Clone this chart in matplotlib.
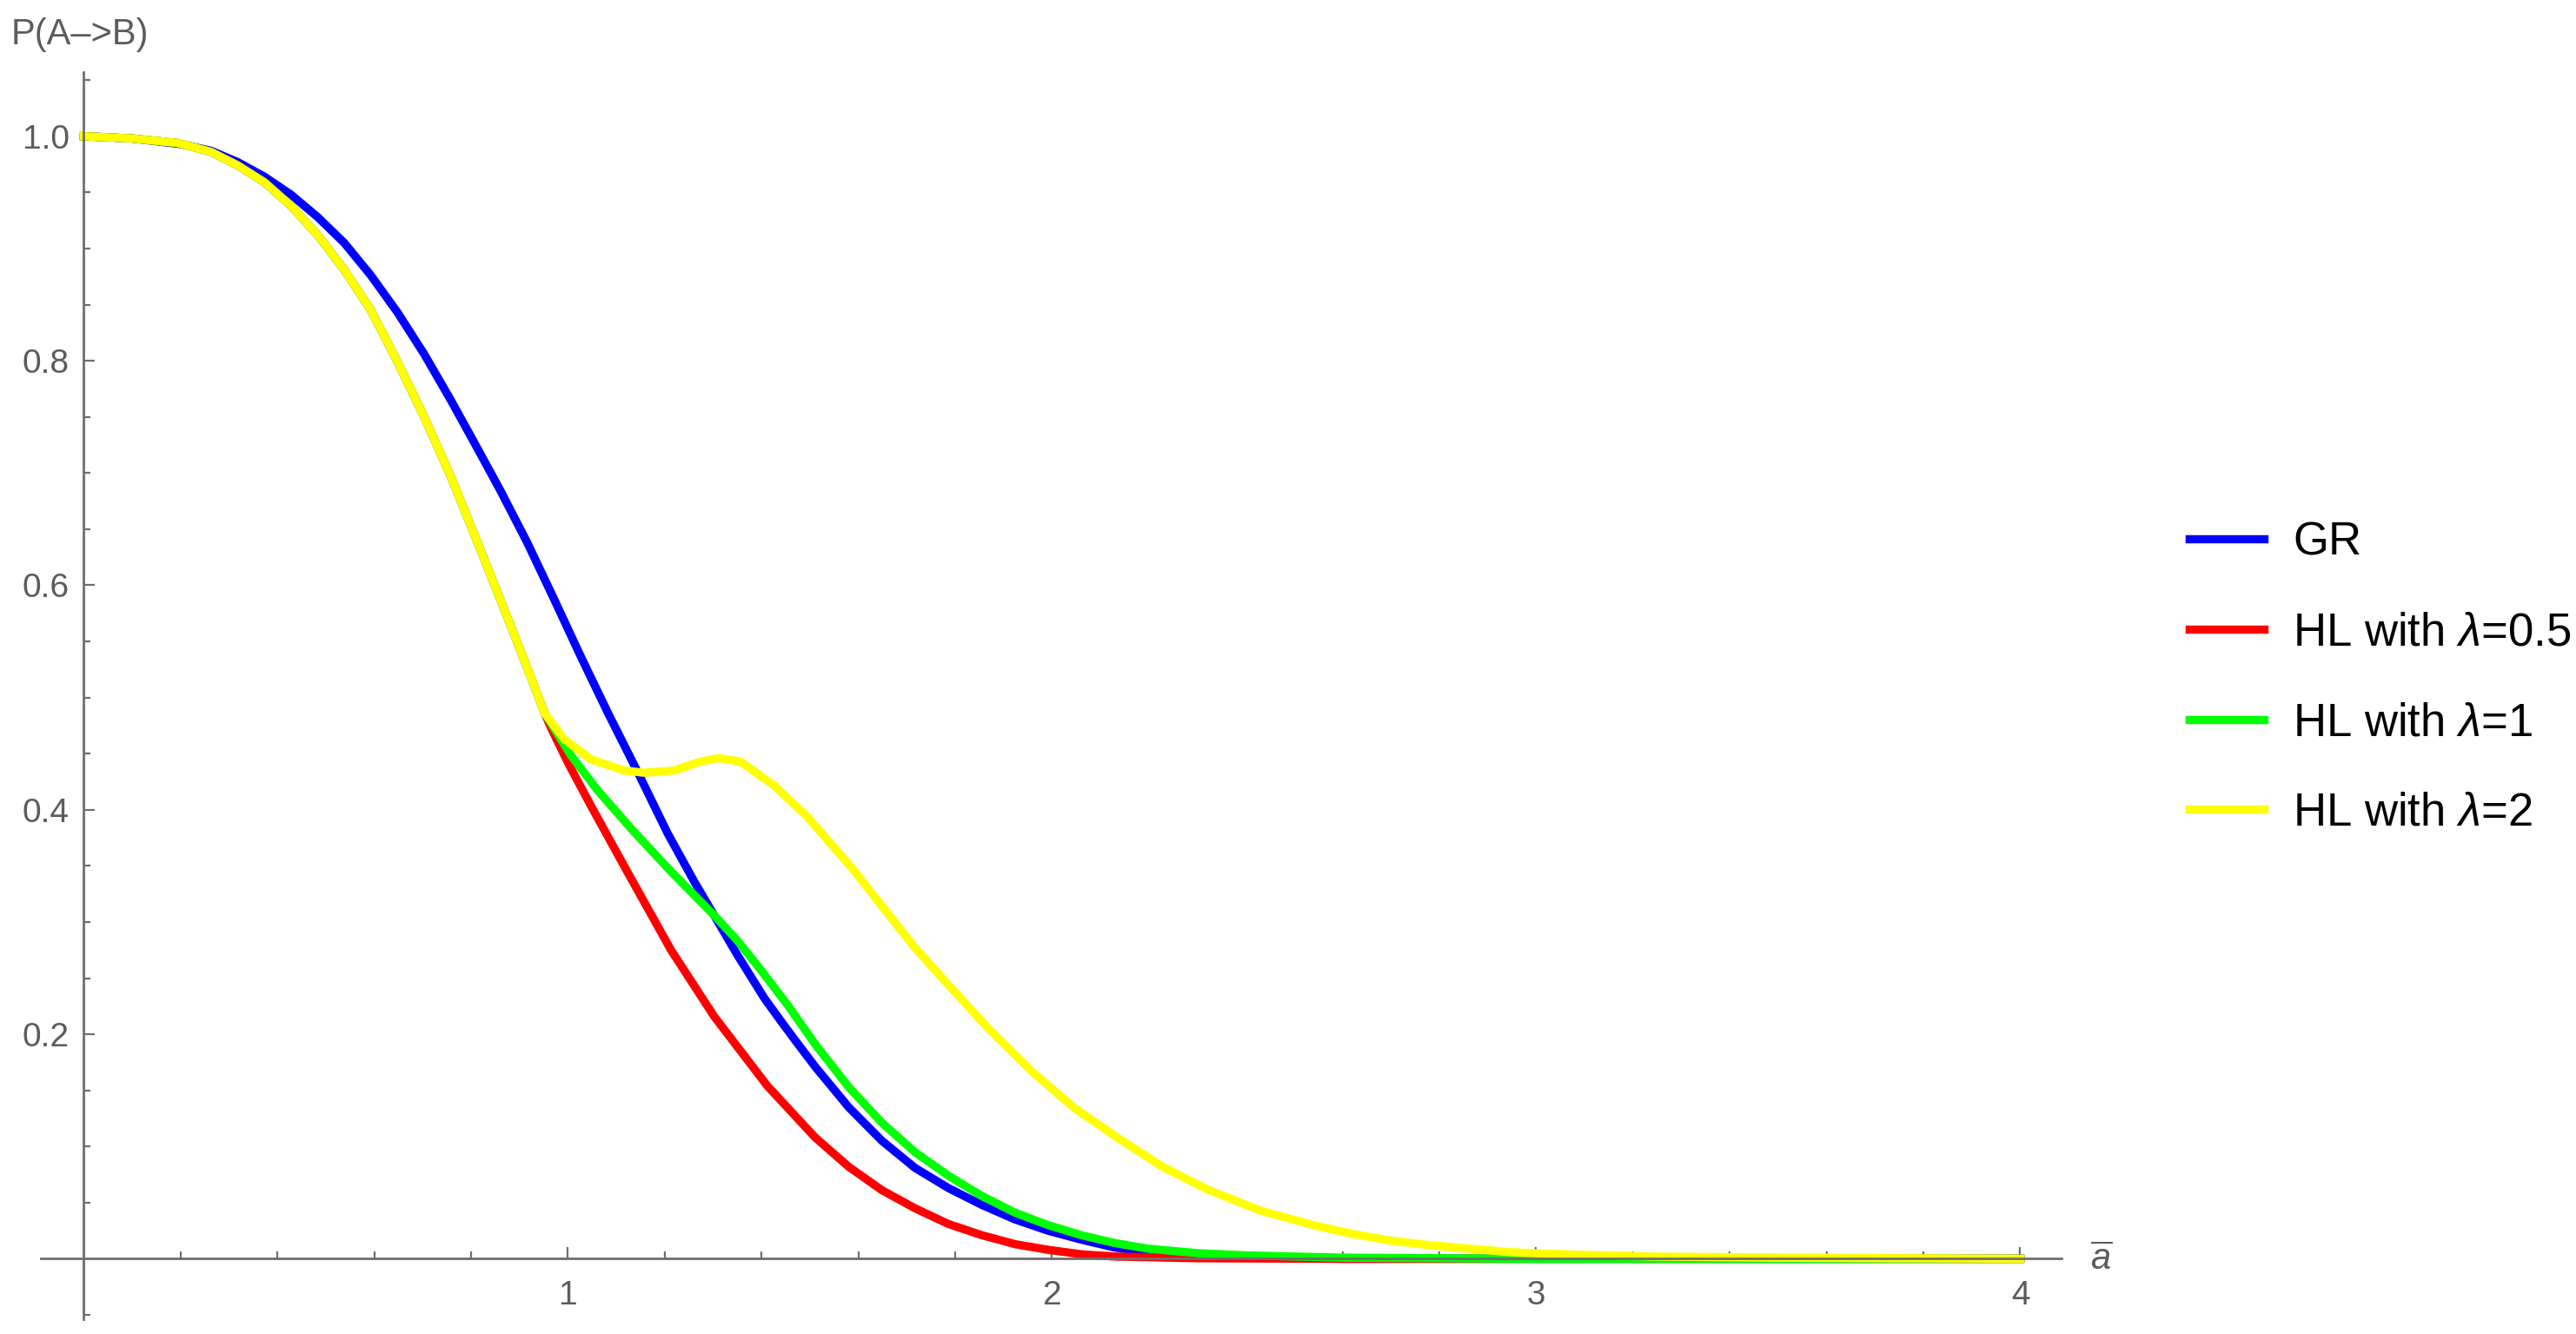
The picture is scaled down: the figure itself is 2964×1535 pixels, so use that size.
import numpy as np
import matplotlib
matplotlib.use("Agg")
import matplotlib.pyplot as plt
from matplotlib.ticker import FixedLocator

plt.rcParams['font.family'] = ['Liberation Sans', 'DejaVu Sans']
plt.rcParams['mathtext.fontset'] = 'custom'
plt.rcParams['mathtext.it'] = 'Liberation Sans:italic'
plt.rcParams['mathtext.rm'] = 'Liberation Sans'

# GR curve
gr_x = [0.0, 0.1, 0.2, 0.263, 0.318, 0.373, 0.428, 0.483, 0.538, 0.593, 0.648, 0.703,
        0.758, 0.813, 0.861, 0.916, 0.971, 1.025, 1.083, 1.146, 1.206, 1.261, 1.302, 1.351,
        1.406, 1.443, 1.474, 1.511, 1.536, 1.58, 1.649, 1.717, 1.786, 1.855, 1.924, 1.992,
        2.061, 2.13, 2.198, 2.267, 2.4, 2.6, 3.0, 4.0]
gr_y = [1.0, 0.998, 0.993, 0.987, 0.977, 0.964, 0.948, 0.928, 0.905, 0.876, 0.843, 0.806,
        0.765, 0.722, 0.684, 0.638, 0.588, 0.538, 0.486, 0.432, 0.379, 0.336, 0.306, 0.270,
        0.232, 0.210, 0.192, 0.171, 0.158, 0.135, 0.105, 0.081, 0.063, 0.048, 0.035, 0.025,
        0.017, 0.010, 0.006, 0.003, 0.001, 0.0, 0.0, 0.0]

# HL curves share the same branch up to the kink near a=0.95
hl_x = [0.0, 0.1, 0.194, 0.263, 0.318, 0.373, 0.428, 0.483, 0.538, 0.593, 0.648, 0.703,
        0.758, 0.82, 0.868, 0.91, 0.952]
hl_y = [1.0, 0.998, 0.994, 0.986, 0.974, 0.959, 0.938, 0.912, 0.881, 0.845, 0.799, 0.750,
        0.697, 0.631, 0.579, 0.533, 0.486]

red_x = [0.964, 1.0, 1.047, 1.116, 1.213, 1.302, 1.412, 1.511, 1.58, 1.649, 1.717, 1.786,
         1.855, 1.924, 1.992, 2.061, 2.13, 2.3, 2.6, 4.0]
red_y = [0.474, 0.442, 0.404, 0.350, 0.275, 0.216, 0.154, 0.108, 0.082, 0.061, 0.045, 0.031,
         0.021, 0.013, 0.008, 0.004, 0.002, 0.0005, 0.0, 0.0]

green_x = [1.007, 1.062, 1.131, 1.213, 1.302, 1.351, 1.399, 1.454, 1.511, 1.58, 1.649, 1.717,
           1.786, 1.855, 1.924, 1.992, 2.061, 2.13, 2.198, 2.301, 2.404, 2.6, 3.0, 4.0]
green_y = [0.448, 0.417, 0.383, 0.345, 0.306, 0.283, 0.257, 0.226, 0.191, 0.153, 0.121, 0.095,
           0.074, 0.056, 0.041, 0.030, 0.021, 0.014, 0.009, 0.005, 0.003, 0.001, 0.0, 0.0]

yellow_x = [0.992, 1.047, 1.116, 1.157, 1.219, 1.274, 1.311, 1.356, 1.425, 1.494, 1.587, 1.649,
            1.717, 1.786, 1.869, 1.958, 2.047, 2.135, 2.228, 2.32, 2.43, 2.54, 2.622, 2.703,
            2.783, 2.863, 2.943, 3.023, 3.103, 3.24, 3.5, 4.0]
yellow_y = [0.463, 0.445, 0.435, 0.433, 0.435, 0.443, 0.446, 0.443, 0.422, 0.394, 0.348, 0.314,
            0.277, 0.244, 0.205, 0.167, 0.134, 0.108, 0.082, 0.062, 0.043, 0.030, 0.022, 0.016,
            0.012, 0.009, 0.006, 0.0045, 0.0035, 0.002, 0.001, 0.0]

labels = ["GR", r"HL with $\lambda$=0.5", r"HL with $\lambda$=1", r"HL with $\lambda$=2"]
colores = ["#0000ff", "#ff0000", "#00ff00", "#ffff00"]

x_major = [1, 2, 3, 4]
y_major = [0.2, 0.4, 0.6, 0.8, 1.0]

gris = "#6e6e6e"
gris_texto = "#5c5c5c"

fig = plt.figure(figsize=(14.82, 7.675), dpi=200)
ax = fig.add_axes([0.016, 0.01094, 0.7844, 0.9349])

series = [
    (gr_x, gr_y),
    (hl_x + red_x, hl_y + red_y),
    (hl_x + green_x, hl_y + green_y),
    (hl_x + yellow_x, hl_y + yellow_y),
]
for (xs, ys), c, lab in zip(series, colores, labels):
    ax.plot(xs, ys, color=c, lw=3.4, label=lab, solid_joinstyle='round')

ax.set_xlim(-0.088, 4.086)
ax.set_ylim(-0.054, 1.057)

for s in ['top', 'right']:
    ax.spines[s].set_visible(False)
for s in ['left', 'bottom']:
    ax.spines[s].set_position('zero')
    ax.spines[s].set_color(gris)
    ax.spines[s].set_linewidth(1.0)
    ax.spines[s].set_zorder(5)

x_minor = [round(v, 2) for v in np.arange(0.2, 4.01, 0.2) if abs(v - round(v)) > 1e-6]
y_minor = [round(v, 2) for v in np.arange(-0.05, 1.06, 0.05)
           if abs(v * 5 - round(v * 5)) > 1e-6]
ax.xaxis.set_major_locator(FixedLocator(x_major))
ax.xaxis.set_minor_locator(FixedLocator(x_minor))
ax.yaxis.set_major_locator(FixedLocator(y_major))
ax.yaxis.set_minor_locator(FixedLocator(y_minor))
ax.set_xticklabels([str(v) for v in x_major])
ax.set_yticklabels([f"{v:.1f}" for v in y_major])

ax.tick_params(axis='both', which='both', direction='in', color=gris, width=0.8,
               labelcolor=gris_texto, labelsize=14)
ax.tick_params(axis='x', which='major', length=4.7, pad=9)
ax.tick_params(axis='x', which='minor', length=2.8)
ax.tick_params(axis='y', which='major', length=4.5, pad=6)
ax.tick_params(axis='y', which='minor', length=2.8)

ax.set_ylabel("P(A–>B)", rotation=0, fontsize=15, color=gris_texto, ha='left', va='center')
ax.yaxis.set_label_coords(-0.0148, 1.030)
ax.set_xlabel(r"$\overline{a}$", fontsize=15, color=gris_texto, ha='center', va='center')
ax.xaxis.set_label_coords(1.0196, 0.0475)

fig.legend(loc='center left', bbox_to_anchor=(0.8411, 0.4918), frameon=False,
           fontsize=19, handlelength=1.63, handletextpad=0.62, labelspacing=1.02,
           borderpad=0, labelcolor='black')

fig.savefig("out.png", dpi=200, facecolor='white')
